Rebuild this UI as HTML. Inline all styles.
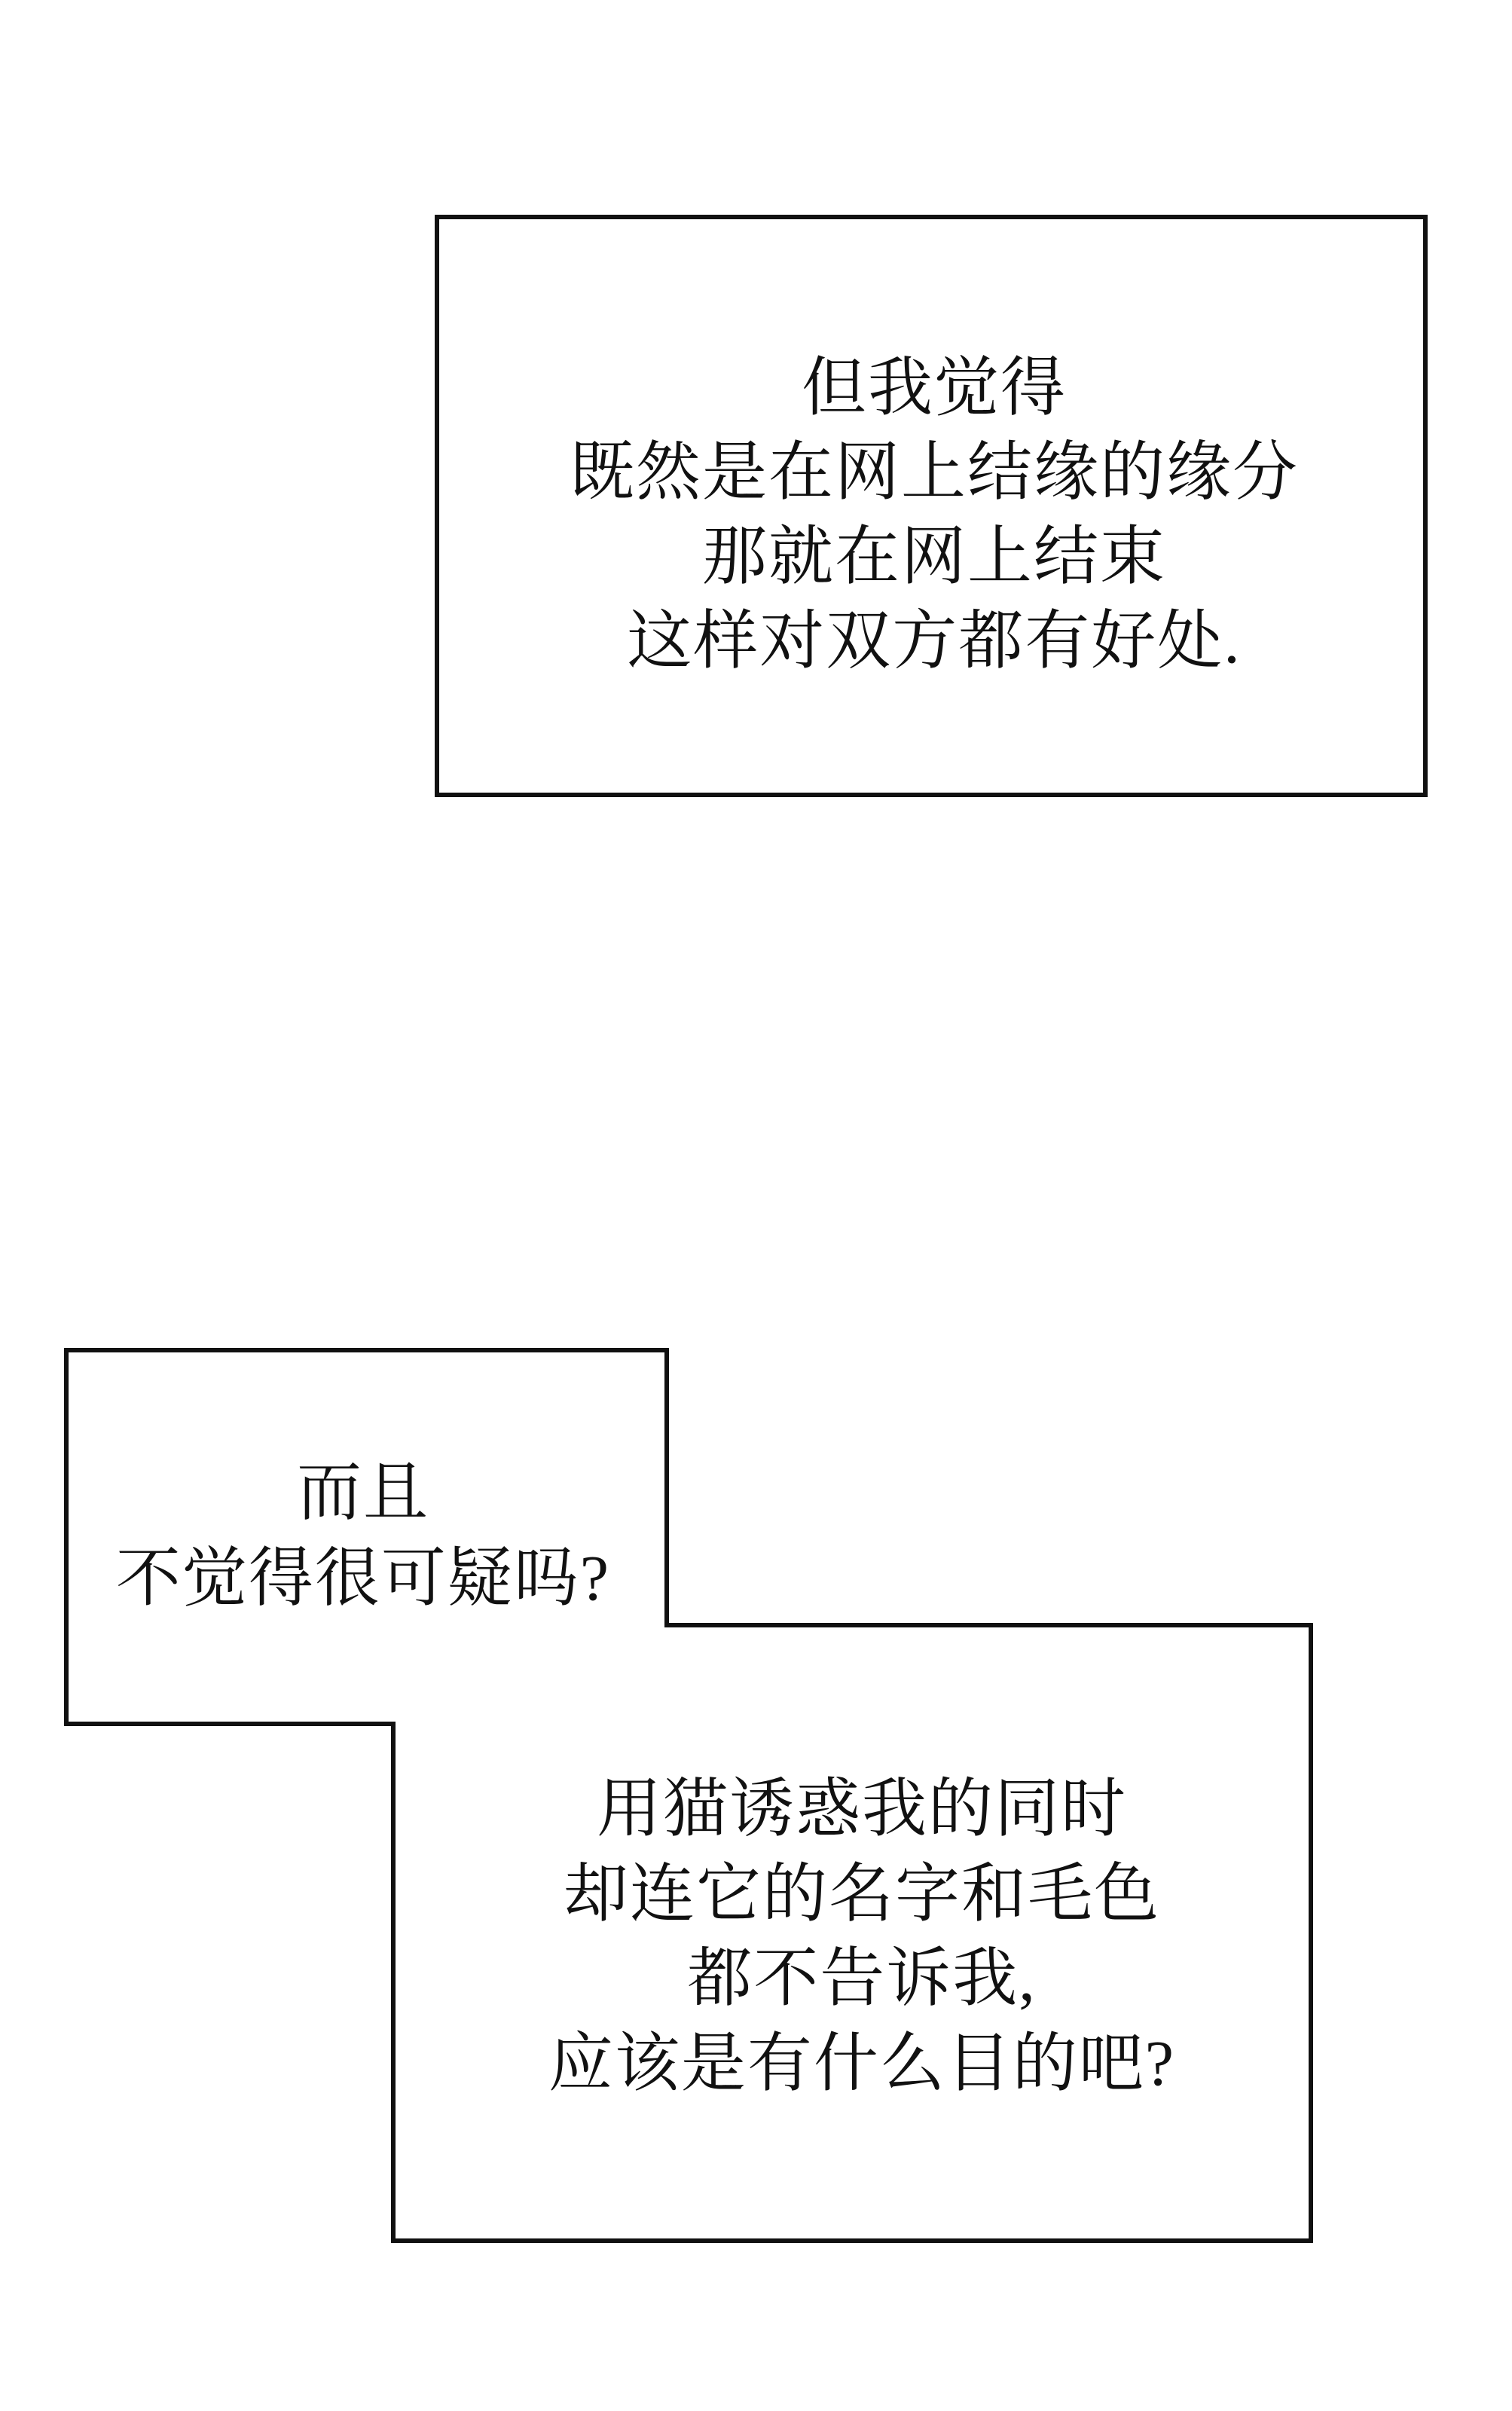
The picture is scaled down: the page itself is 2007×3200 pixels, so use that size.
<!DOCTYPE html>
<html><head><meta charset="utf-8"><style>
html,body{margin:0;padding:0;background:#fff;}
svg{display:block;}
text{font-family:"Liberation Serif","Noto Serif CJK SC",serif;font-size:86px;letter-spacing:2px;fill:#111;text-anchor:middle;dominant-baseline:middle;}
</style></head><body>
<svg width="2007" height="3200" viewBox="0 0 2007 3200" xmlns="http://www.w3.org/2000/svg">
<rect x="0" y="0" width="2007" height="3200" fill="#fff"/>
<rect x="580" y="288" width="1312" height="767" fill="#fff" stroke="#111" stroke-width="6"/>
<text x="1240" y="524">但我觉得</text>
<text x="1240" y="636">既然是在网上结缘的缘分</text>
<text x="1240" y="748">那就在网上结束</text>
<text x="1240" y="860">这样对双方都有好处.</text>
<polygon points="88,1792 885,1792 885,2157 1740,2157 1740,2974 522,2974 522,2288 88,2288" fill="#fff" stroke="#111" stroke-width="6"/>
<text x="482" y="1990">而且</text>
<text x="482" y="2104">不觉得很可疑吗?</text>
<text x="1144" y="2410">用猫诱惑我的同时</text>
<text x="1144" y="2523">却连它的名字和毛色</text>
<text x="1144" y="2635">都不告诉我,</text>
<text x="1144" y="2748">应该是有什么目的吧?</text>
</svg>
</body></html>
